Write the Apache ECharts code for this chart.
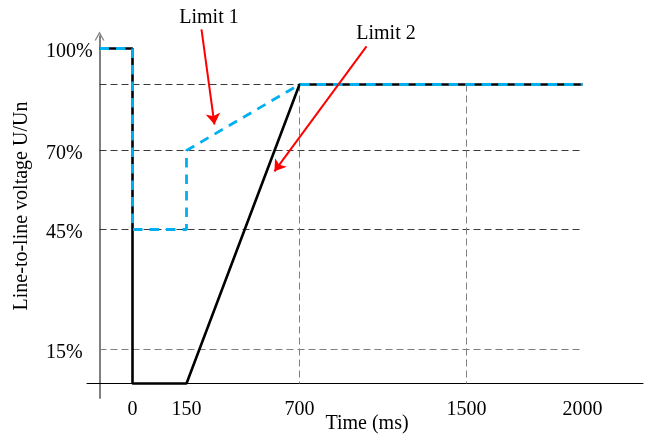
<!DOCTYPE html>
<html>
<head>
<meta charset="utf-8">
<script src="https://cdn.jsdelivr.net/npm/echarts@6/dist/echarts.min.js"></script>
<style>
  html, body { margin: 0; padding: 0; background: #ffffff; }
  #chart { width: 648px; height: 436px; }
</style>
</head>
<body>
<div id="chart"></div>
<script>
// ---- data (time in ms, voltage in % of Un) ----
const T_PRE = -100;                                  // pre-fault start, at the voltage axis
const timeBreaks = [T_PRE, 0, 150, 700, 1500, 2000]; // scale break points of the time axis
const timeTicks = [0, 150, 700, 1500, 2000];
const voltBreaks = [0, 15, 45, 70, 90, 100];         // scale break points of the voltage axis
const voltTicks = [15, 45, 70, 100];

// Limit 2: solid black profile
const limit2Time = [T_PRE, 0, 0, 150, 700, 2000];
const limit2Volt = [100, 100, 0, 0, 90, 90];

// Limit 1: dashed blue profile
const limit1Time = [T_PRE, 0, 0, 150, 150, 700, 2000];
const limit1Volt = [100, 100, 45, 45, 70, 90, 90];

// reference lines
const hLineVolts = [90, 70, 45, 15];
const vLineTimes = [700, 1500];

// callout arrows: [time, volt] of tail and head
const callout1 = [[223, 105.3], [286, 77.9]];
const callout2 = [[1021, 100.6], [578, 63.4]];

// ---- piecewise scale layout (axis units = pixels from the origin) ----
const timeUnits = [0, 33, 87, 200, 367, 483];
const voltUnits = [0, 34, 154, 233, 299, 335];

function warp(v, breaks, units) {
  let i = 0;
  while (i < breaks.length - 2 && v > breaks[i + 1]) i++;
  return units[i] + (v - breaks[i]) * (units[i + 1] - units[i]) / (breaks[i + 1] - breaks[i]);
}
const wx = t => warp(t, timeBreaks, timeUnits);
const wy = v => warp(v, voltBreaks, voltUnits);
const pts = (ts, vs) => ts.map((t, i) => [wx(t), wy(vs[i])]);

const FONT = 'Liberation Serif';

const gridSeries = [];
hLineVolts.forEach(v => {
  gridSeries.push({
    type: 'line', silent: true, symbol: 'none', animation: false, z: 1,
    data: pts([T_PRE, 2000], [v, v]),
    lineStyle: { color: v === 15 ? '#7f7f7f' : '#3a3a3a', width: 1, type: [7, 4] }
  });
});
vLineTimes.forEach(t => {
  gridSeries.push({
    type: 'line', silent: true, symbol: 'none', animation: false, z: 1,
    data: pts([t, t], [90, 0]),
    lineStyle: { color: '#7f7f7f', width: 1, type: [7, 4] }
  });
});

const calloutSeries = {
  type: 'lines', coordinateSystem: 'cartesian2d', silent: true, animation: false,
  clip: false, z: 6,
  symbol: ['none', 'arrow'], symbolSize: 11,
  lineStyle: { color: '#ff0000', width: 2, opacity: 1, curveness: 0 },
  data: [callout1, callout2].map(c => ({
    coords: c.map(p => [wx(p[0]), wy(p[1])])
  }))
};

const chart = echarts.init(document.getElementById('chart'), null, { renderer: 'canvas' });

chart.setOption({
  animation: false,
  backgroundColor: '#ffffff',
  grid: { left: 87, right: 5, top: 36, bottom: 38, containLabel: false },
  xAxis: {
    type: 'value', min: -12.5, max: 543.5,
    axisLine: { show: true, onZero: true, lineStyle: { color: '#000000', width: 1 } },
    axisTick: { show: false },
    splitLine: { show: false },
    axisLabel: {
      customValues: timeTicks.map(wx),
      formatter: val => {
        const k = timeTicks.findIndex(t => Math.abs(wx(t) - val) < 0.01);
        return k >= 0 ? String(timeTicks[k]) : '';
      },
      margin: 2, color: '#000000', fontFamily: FONT, fontSize: 20
    }
  },
  yAxis: {
    type: 'value', min: -14.5, max: 347.5,
    axisLine: {
      show: true, onZero: true,
      lineStyle: { color: '#808080', width: 2 },
      symbol: ['none', 'path://M0,9L5,0L10,9L8.6,9L5,2.4L1.4,9Z'],
      symbolSize: [10, 9]
    },
    axisTick: { show: false },
    splitLine: { show: false },
    axisLabel: {
      customValues: voltTicks.map(wy),
      formatter: val => {
        const k = voltTicks.findIndex(v => Math.abs(wy(v) - val) < 0.01);
        return k >= 0 ? voltTicks[k] + '%' : '';
      },
      align: 'left', verticalAlign: 'top', lineHeight: 6, margin: 41,
      color: '#000000', fontFamily: FONT, fontSize: 20
    }
  },
  series: gridSeries.concat([
    {
      name: 'Limit 2', type: 'line', symbol: 'none', z: 3,
      data: pts(limit2Time, limit2Volt),
      lineStyle: { color: '#000000', width: 2.6 }
    },
    {
      name: 'Limit 1', type: 'line', symbol: 'none', z: 4,
      data: pts(limit1Time, limit1Volt),
      lineStyle: { color: '#00b0f0', width: 2.8, type: [9.5, 7] }
    },
    calloutSeries
  ]),
  graphic: [
    { type: 'text', x: 209, y: 18, style: { text: 'Limit 1', fill: '#000', font: '20px "Liberation Serif"', align: 'center', verticalAlign: 'middle' } },
    { type: 'text', x: 386, y: 34, style: { text: 'Limit 2', fill: '#000', font: '20px "Liberation Serif"', align: 'center', verticalAlign: 'middle' } },
    { type: 'text', x: 367, y: 424, style: { text: 'Time (ms)', fill: '#000', font: '20px "Liberation Serif"', align: 'center', verticalAlign: 'middle' } },
    { type: 'text', x: 22, y: 206, rotation: Math.PI / 2, style: { text: 'Line-to-line voltage U/Un', fill: '#000', font: '20px "Liberation Serif"', align: 'center', verticalAlign: 'middle' } }
  ]
});
</script>
</body>
</html>
